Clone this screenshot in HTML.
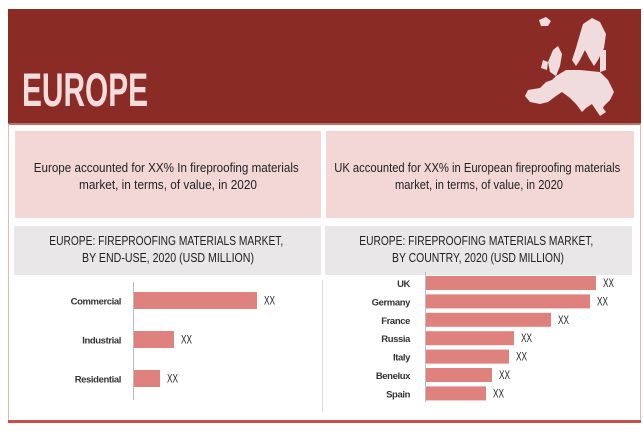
<!DOCTYPE html>
<html><head><meta charset="utf-8"><style>
html,body{margin:0;padding:0;background:#fff;}
svg{display:block;font-family:"Liberation Sans",sans-serif;}
</style></head><body>
<svg width="643" height="438" viewBox="0 0 643 438" xmlns="http://www.w3.org/2000/svg">
  <rect x="8" y="9" width="633" height="116" fill="#8b2b26"/>
  <text x="22" y="106" font-size="47" font-weight="bold" fill="#f3dcdc" textLength="126" lengthAdjust="spacingAndGlyphs">EUROPE</text>
  <g fill="#f0dcdc">
    <path d="M539,20 L546,17 L551,21 L548,26 L541,26 Z"/>
    <path d="M583,24 L592,18 L600,22 L606,34 L604,48 L598,60 L594,66 L589,58 L585,50 L580,60 L576,66 L572,60 L576,48 L580,34 Z"/>
    <path d="M553,50 L558,46 L562,54 L560,66 L556,76 L550,72 L548,62 Z"/>
    <path d="M543,60 L548,62 L547,70 L541,68 Z"/>
    <path d="M600,50 L606,50 L606,70 L600,72 Z"/>
    <path d="M556,76 L566,70 L580,70 L600,72 L608,80 L614,92 L610,100 L604,106 L600,114 L596,110 L592,104 L586,108 L582,112 L576,104 L570,98 L562,92 L556,96 L548,102 L540,104 L530,102 L525,96 L528,90 L540,88 L546,82 L552,80 Z"/>
    <path d="M592,104 L600,104 L606,112 L600,116 Z"/>
  </g>
  <rect x="8.5" y="124" width="632" height="297" fill="none" stroke="#e8b8b6" stroke-width="1"/>
  <rect x="8" y="420" width="633" height="3" fill="#c9504a"/>

  <rect x="15" y="131" width="306" height="87" fill="#f3d6d6"/>
  <text font-size="12.5" fill="#222" text-anchor="middle">
    <tspan x="168" y="172" textLength="265" lengthAdjust="spacingAndGlyphs">Europe accounted for XX% In fireproofing  materials</tspan>
    <tspan x="168" y="189" textLength="178" lengthAdjust="spacingAndGlyphs">market,  in terms,  of value, in 2020</tspan>
  </text>
  <rect x="326" y="131" width="308" height="87" fill="#f3d6d6"/>
  <text font-size="12.5" fill="#222" text-anchor="middle">
    <tspan x="479" y="172" textLength="286" lengthAdjust="spacingAndGlyphs">UK accounted for XX% in European fireproofing materials</tspan>
    <tspan x="479" y="189" textLength="168" lengthAdjust="spacingAndGlyphs">market, in terms, of value, in 2020</tspan>
  </text>

  <rect x="14" y="226" width="307" height="49" fill="#e9e7e7"/>
  <text font-size="12.5" fill="#222" text-anchor="middle">
    <tspan x="168" y="245" textLength="234" lengthAdjust="spacingAndGlyphs">EUROPE: FIREPROOFING  MATERIALS MARKET,</tspan>
    <tspan x="168" y="262" textLength="172" lengthAdjust="spacingAndGlyphs">BY END-USE, 2020 (USD MILLION)</tspan>
  </text>
  <rect x="325" y="226" width="307" height="49" fill="#e9e7e7"/>
  <text font-size="12.5" fill="#222" text-anchor="middle">
    <tspan x="478" y="245" textLength="234" lengthAdjust="spacingAndGlyphs">EUROPE: FIREPROOFING  MATERIALS MARKET,</tspan>
    <tspan x="478" y="262" textLength="172" lengthAdjust="spacingAndGlyphs">BY COUNTRY, 2020 (USD MILLION)</tspan>
  </text>

  <line x1="322.5" y1="280" x2="322.5" y2="412" stroke="#ddd"/>
  <g id="left-chart"></g>
  <g id="right-chart"></g>
</svg>
<script>
const endUseCategories = ["Commercial", "Industrial", "Residential"];
const endUseValues = [123, 40, 26];
const endUseLabels = ["XX", "XX", "XX"];
const countryCategories = ["UK", "Germany", "France", "Russia", "Italy", "Benelux", "Spain"];
const countryValues = [170, 164, 125, 88, 83, 66, 60];
const countryLabels = ["XX", "XX", "XX", "XX", "XX", "XX", "XX"];

const NS = "http://www.w3.org/2000/svg";
function mk(tag, attrs, parent) {
  const e = document.createElementNS(NS, tag);
  for (const k in attrs) e.setAttribute(k, attrs[k]);
  parent.appendChild(e);
  return e;
}
function drawChart(g, cats, vals, labels, cfg, prefix) {
  const xs = v => cfg.x0 + v * cfg.scale;
  const ys = i => cfg.yTop + i * cfg.step;
  const axis = mk("line", {x1: cfg.x0 - 0.5, x2: cfg.x0 - 0.5, y1: cfg.axisTop, y2: cfg.axisBottom, stroke: "#bbb"}, g);
  
  
  cats.forEach((c, i) => {
    const y = ys(i);
    const bar = mk("rect", {x: cfg.x0, y: y, width: xs(vals[i]) - cfg.x0, height: cfg.h, fill: "#df827d"}, g);
    
    
    const lab = mk("text", {x: cfg.x0 - cfg.gap, y: y + cfg.h / 2 + 4, "font-size": 9.5, "font-weight": "bold", "letter-spacing": "-0.4", fill: "#333", "text-anchor": "end"}, g);
    lab.textContent = c;
    
    
    const val = mk("text", {x: xs(vals[i]) + 7, y: y + cfg.h / 2 + 4, "font-size": 12, fill: "#222", textLength: 11, lengthAdjust: "spacingAndGlyphs"}, g);
    val.textContent = labels[i];
    
    
  });
}
drawChart(document.getElementById("left-chart"), endUseCategories, endUseValues, endUseLabels,
  {x0: 134, scale: 1, yTop: 292, step: 39, h: 17, axisTop: 282, axisBottom: 400, gap: 13}, "end-use");
drawChart(document.getElementById("right-chart"), countryCategories, countryValues, countryLabels,
  {x0: 426, scale: 1, yTop: 276, step: 18.4, h: 14, axisTop: 272, axisBottom: 402, gap: 16}, "country");
</script>
</body></html>
